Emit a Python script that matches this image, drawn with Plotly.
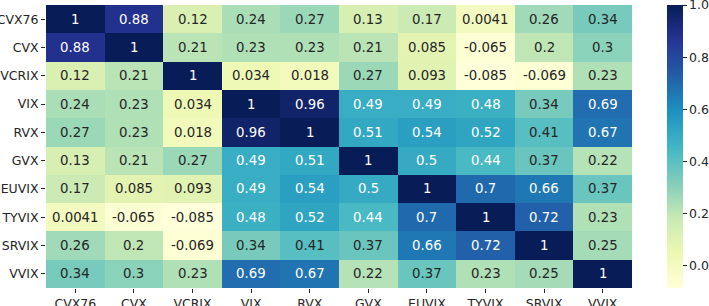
import plotly.graph_objects as go

labels = ["CVX76", "CVX", "VCRIX", "VIX", "RVX", "GVX", "EUVIX", "TYVIX", "SRVIX", "VVIX"]

row_cvx76 = [1, 0.88, 0.12, 0.24, 0.27, 0.13, 0.17, 0.0041, 0.26, 0.34]
row_cvx = [0.88, 1, 0.21, 0.23, 0.23, 0.21, 0.085, -0.065, 0.2, 0.3]
row_vcrix = [0.12, 0.21, 1, 0.034, 0.018, 0.27, 0.093, -0.085, -0.069, 0.23]
row_vix = [0.24, 0.23, 0.034, 1, 0.96, 0.49, 0.49, 0.48, 0.34, 0.69]
row_rvx = [0.27, 0.23, 0.018, 0.96, 1, 0.51, 0.54, 0.52, 0.41, 0.67]
row_gvx = [0.13, 0.21, 0.27, 0.49, 0.51, 1, 0.5, 0.44, 0.37, 0.22]
row_euvix = [0.17, 0.085, 0.093, 0.49, 0.54, 0.5, 1, 0.7, 0.66, 0.37]
row_tyvix = [0.0041, -0.065, -0.085, 0.48, 0.52, 0.44, 0.7, 1, 0.72, 0.23]
row_srvix = [0.26, 0.2, -0.069, 0.34, 0.41, 0.37, 0.66, 0.72, 1, 0.25]
row_vvix = [0.34, 0.3, 0.23, 0.69, 0.67, 0.22, 0.37, 0.23, 0.25, 1]

z = [row_cvx76, row_cvx, row_vcrix, row_vix, row_rvx, row_gvx, row_euvix, row_tyvix, row_srvix, row_vvix]

cbar_ticks = [0.0, 0.2, 0.4, 0.6, 0.8, 1.0]

ylgnbu = ["#ffffd9", "#edf8b1", "#c7e9b4", "#7fcdbb", "#41b6c4", "#1d91c0", "#225ea8", "#253494", "#081d58"]
colorscale = [[i / (len(ylgnbu) - 1), c] for i, c in enumerate(ylgnbu)]

zmin = min(min(r) for r in z)
zmax = max(max(r) for r in z)

FONT = "DejaVu Sans"
TXT = "#262626"

fig = go.Figure(go.Heatmap(
    z=z, x=labels, y=labels,
    colorscale=colorscale, zmin=zmin, zmax=zmax,
    xgap=0, ygap=0,
    hoverinfo="skip",
    colorbar=dict(
        x=1.0597, xanchor="left", xref="paper", xpad=0, ypad=0,
        y=0.5, yanchor="middle", len=1.0, lenmode="fraction",
        thickness=16, outlinewidth=0,
        tickvals=cbar_ticks, ticktext=[f"{v:.1f}" for v in cbar_ticks],
        ticks="outside", ticklen=4, tickcolor=TXT,
        ticklabeloverflow="allow",
        tickfont=dict(family=FONT, size=12.5, color=TXT),
    ),
))

annotations = []
for i, row in enumerate(z):
    for j, v in enumerate(row):
        txt = f"{v:.2g}"
        color = "white" if v > 0.425 else TXT
        annotations.append(dict(
            x=labels[j], y=labels[i], text=txt, showarrow=False,
            font=dict(family=FONT, size=13.3, color=color),
        ))

fig.update_layout(
    width=709, height=306,
    margin=dict(l=46, r=77, t=5, b=18, autoexpand=False),
    paper_bgcolor="white", plot_bgcolor="white",
    annotations=annotations,
    font=dict(family=FONT, color=TXT),
)
fig.update_xaxes(
    showgrid=False, zeroline=False, ticks="outside", ticklen=4, tickcolor=TXT,
    tickfont=dict(family=FONT, size=12.5, color=TXT), showline=False, automargin=False,
)
fig.update_yaxes(
    autorange="reversed", showgrid=False, zeroline=False, ticks="outside", ticklen=4,
    tickcolor=TXT, tickfont=dict(family=FONT, size=12.5, color=TXT), showline=False, automargin=False,
)

fig.write_html(
    "out.html",
    config={"displayModeBar": False},
    post_script="document.body.style.margin='0';document.body.style.overflow='hidden';",
)
